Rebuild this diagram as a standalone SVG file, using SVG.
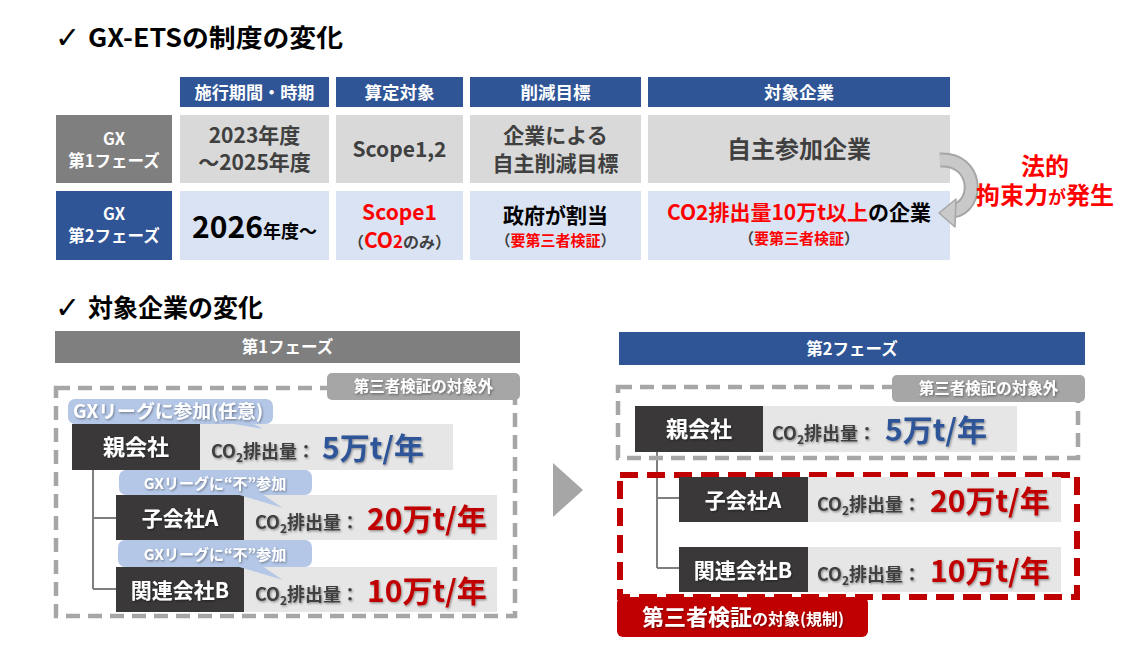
<svg xmlns="http://www.w3.org/2000/svg" width="1123" height="646" viewBox="0 0 1123 646">
<defs>
<filter id="sh" x="-10%" y="-30%" width="130%" height="160%"><feDropShadow dx="1" dy="1.2" stdDeviation="0.8" flood-color="#000" flood-opacity="0.4"/></filter>
</defs>
<style>
text { font-family: 'Noto Sans CJK JP', 'Noto Sans', sans-serif; font-weight: bold; }
.chk { font-family: 'DejaVu Sans', sans-serif; font-weight: normal; font-size: 30px; fill: #000; }
.ttl { font-size: 25px; fill: #000; }
.hdr { fill: #2F5597; }
.hdrt { fill: #fff; font-size: 17.5px; text-anchor: middle; }
.rh1 { fill: #7F7F7F; }
.rh2 { fill: #2F5597; }
.rht { fill: #fff; font-size: 16.5px; text-anchor: middle; }
.c1 { fill: #D9D9D9; }
.c2 { fill: #DAE3F3; }
.t1 { fill: #404040; font-size: 21px; text-anchor: middle; }
.t2 { fill: #000; font-size: 21px; text-anchor: middle; }
.red { fill: #FF0000; }
.gry { fill: #404040; }
.blk { fill: #000; }
.law { fill: #FF0000; font-size: 24px; text-anchor: middle; }
.ph1 { fill: #7F7F7F; }
.ph2 { fill: #2F5597; }
.pht { fill: #fff; font-size: 16.5px; text-anchor: middle; }
.dash { fill: none; stroke: #A6A6A6; stroke-width: 4.5; stroke-dasharray: 14 8; }
.rdash { fill: none; stroke: #C00000; stroke-width: 6; stroke-dasharray: 18 9; }
.lbl { fill: #A6A6A6; }
.lblt { fill: #fff; font-size: 15.5px; text-anchor: middle; }
.co { fill: #B4C7E7; }
.cot { fill: #fff; font-size: 15px; text-anchor: middle; }
.nb { fill: #3A3838; }
.bar { fill: #E7E6E6; }
.nt { fill: #fff; font-size: 21px; text-anchor: middle; }
.em { fill: #404040; font-size: 18px; }
.v1 { fill: #2F5597; font-size: 30px; }
.v2 { fill: #C00000; font-size: 30px; }
.tree { fill: none; stroke: #7F7F7F; stroke-width: 2; }
.sh { filter: url(#sh); }
</style>

<!-- Titles -->
<g id="title1">
<text class="chk" x="55" y="48">✓</text>
<text class="ttl" x="88" y="47" textLength="255" lengthAdjust="spacingAndGlyphs">GX-ETSの制度の変化</text>
</g>
<g id="title2">
<text class="chk" x="55" y="318">✓</text>
<text class="ttl" x="88" y="317" textLength="175" lengthAdjust="spacingAndGlyphs">対象企業の変化</text>
</g>

<!-- Table header -->
<g id="hdr-period"><rect class="hdr" x="180" y="77" width="149" height="30"/><text class="hdrt" x="254.5" y="98.5" textLength="120" lengthAdjust="spacingAndGlyphs">施行期間・時期</text></g>
<g id="hdr-scope"><rect class="hdr" x="336" y="77" width="127" height="30"/><text class="hdrt" x="399.5" y="98.5">算定対象</text></g>
<g id="hdr-target"><rect class="hdr" x="470" y="77" width="171" height="30"/><text class="hdrt" x="555.5" y="98.5">削減目標</text></g>
<g id="hdr-company"><rect class="hdr" x="648" y="77" width="302" height="30"/><text class="hdrt" x="799" y="98.5">対象企業</text></g>

<!-- Row 1 -->
<g id="row1-head"><rect class="rh1" x="56" y="115" width="116" height="68"/><text class="rht" x="114" y="145">GX</text><text class="rht" x="114" y="167">第1フェーズ</text></g>
<g id="row1-period"><rect class="c1" x="180" y="115" width="149" height="68"/><text class="t1" x="254.5" y="143">2023年度</text><text class="t1" x="254.5" y="170">～2025年度</text></g>
<g id="row1-scope"><rect class="c1" x="336" y="115" width="127" height="68"/><text class="t1" x="399.5" y="157">Scope1,2</text></g>
<g id="row1-target"><rect class="c1" x="470" y="115" width="171" height="68"/><text class="t1" x="555.5" y="142.5">企業による</text><text class="t1" x="555.5" y="170.5">自主削減目標</text></g>
<g id="row1-company"><rect class="c1" x="648" y="115" width="302" height="68"/><text class="t1" x="799" y="158" style="font-size:24px">自主参加企業</text></g>

<!-- Row 2 -->
<g id="row2-head"><rect class="rh2" x="56" y="191" width="116" height="69"/><text class="rht" x="114" y="220">GX</text><text class="rht" x="114" y="242">第2フェーズ</text></g>
<g id="row2-period"><rect class="c2" x="180" y="191" width="149" height="69"/><text class="t2" x="254.5" y="238"><tspan style="font-size:30px">2026</tspan><tspan style="font-size:18px">年度～</tspan></text></g>
<g id="row2-scope"><rect class="c2" x="336" y="191" width="127" height="69"/><text class="t2 red" x="399.5" y="220">Scope1</text><text class="t2" x="399.5" y="248"><tspan class="gry" style="font-size:16px">（</tspan><tspan class="red">CO</tspan><tspan class="red" style="font-size:17px">2</tspan><tspan class="gry" style="font-size:16px">のみ）</tspan></text></g>
<g id="row2-target"><rect class="c2" x="470" y="191" width="171" height="69"/><text class="t2" x="555.5" y="223">政府が割当</text><text class="t2" x="555.5" y="246" style="font-size:15px"><tspan class="gry">（</tspan><tspan class="red">要第三者検証</tspan><tspan class="gry">）</tspan></text></g>
<g id="row2-company"><rect class="c2" x="648" y="191" width="302" height="69"/><text class="t2" x="799" y="220"><tspan class="red">CO2排出量10万t以上</tspan><tspan class="blk">の企業</tspan></text><text class="t2" x="799" y="244" style="font-size:15px"><tspan class="gry">（</tspan><tspan class="red">要第三者検証</tspan><tspan class="gry">）</tspan></text></g>

<!-- Curved arrow and legal note -->
<g id="legal-arrow">
<path d="M940,160 C978,158 980,206 953,211" fill="none" stroke="#A6A6A6" stroke-width="15"/>
<path d="M940,160 C978,158 980,206 953,211" fill="none" stroke="#C9C9C9" stroke-width="11"/>
<polygon points="939,213 956,199 955,227" fill="#C9C9C9" stroke="#A6A6A6" stroke-width="1.5" stroke-linejoin="round"/>
</g>
<g id="legal-note">
<text class="law" x="1045" y="175">法的</text>
<text class="law" x="1045" y="204">拘束力<tspan style="font-size:18px">が</tspan>発生</text>
</g>

<!-- Phase bars -->
<g id="phase1-bar"><rect class="ph1" x="55" y="331" width="465" height="32"/><text class="pht" x="287.5" y="353">第1フェーズ</text></g>
<g id="phase2-bar"><rect class="ph2" x="619" y="332" width="466" height="33"/><text class="pht" x="852" y="355">第2フェーズ</text></g>

<!-- Connectors (tree lines) -->
<g id="connectors">
<path class="tree" d="M93,470 V589 M93,518 H116 M93,589 H116"/>
<path class="tree" d="M657,452 V568 M657,498 H679 M657,568 H679"/>
</g>

<!-- Phase 1 -->
<g id="p1-scope-box"><rect class="dash" x="56" y="388" width="459" height="228"/></g>
<g id="p1-exempt-label"><rect class="lbl" x="327" y="373" width="193" height="27" rx="5"/><text class="lblt sh" x="423.5" y="392">第三者検証の対象外</text></g>

<g id="p1-parent">
<rect class="bar" x="200" y="424" width="253" height="46"/>
<rect class="nb" x="72" y="424" width="128" height="46"/>
<text class="nt sh" x="136" y="455" style="font-size:22px">親会社</text>
<text class="em sh" x="211" y="458">CO<tspan style="font-size:12px" dy="4">2</tspan><tspan dy="-4">排出量：</tspan></text>
<text class="v1 sh" x="322" y="459">5万t/年</text>
</g>
<g id="p1-callout-join">
<rect class="co" x="68" y="399" width="205" height="25" rx="7"/>
<polygon class="co" points="228,423 252,423 263,429"/>
<text class="cot sh" x="168" y="418" style="font-size:18px" textLength="190" lengthAdjust="spacingAndGlyphs">GXリーグに参加(任意)</text>
</g>

<g id="p1-sub-a">
<rect class="bar" x="244" y="495" width="253" height="45"/>
<rect class="nb" x="116" y="495" width="128" height="45"/>
<text class="nt sh" x="180" y="526">子会社A</text>
<text class="em sh" x="255" y="529">CO<tspan style="font-size:12px" dy="4">2</tspan><tspan dy="-4">排出量：</tspan></text>
<text class="v2 sh" x="367" y="530">20万t/年</text>
</g>
<g id="p1-callout-a">
<rect class="co" x="119" y="470" width="193" height="25" rx="7"/>
<polygon class="co" points="236,494 262,494 283,508"/>
<text class="cot sh" x="215" y="489">GXリーグに“不”参加</text>
</g>

<g id="p1-affiliate-b">
<rect class="bar" x="244" y="567" width="253" height="45"/>
<rect class="nb" x="116" y="567" width="128" height="45"/>
<text class="nt sh" x="180" y="598">関連会社B</text>
<text class="em sh" x="255" y="601">CO<tspan style="font-size:12px" dy="4">2</tspan><tspan dy="-4">排出量：</tspan></text>
<text class="v2 sh" x="367" y="602">10万t/年</text>
</g>
<g id="p1-callout-b">
<rect class="co" x="118" y="540" width="194" height="27" rx="7"/>
<polygon class="co" points="236,566 262,566 283,580"/>
<text class="cot sh" x="215" y="560">GXリーグに“不”参加</text>
</g>

<!-- Transition arrow -->
<g id="phase-arrow"><polygon points="553,463 583,490 553,517" fill="#A6A6A6"/></g>

<!-- Phase 2 -->
<g id="p2-scope-box"><rect class="dash" x="618" y="387" width="460" height="71"/></g>
<g id="p2-exempt-label"><rect class="lbl" x="892" y="375" width="193" height="27" rx="5"/><text class="lblt sh" x="988.5" y="394">第三者検証の対象外</text></g>

<g id="p2-parent">
<rect class="bar" x="763" y="406" width="254" height="46"/>
<rect class="nb" x="635" y="406" width="128" height="46"/>
<text class="nt sh" x="699" y="437" style="font-size:22px">親会社</text>
<text class="em sh" x="772" y="440">CO<tspan style="font-size:12px" dy="4">2</tspan><tspan dy="-4">排出量：</tspan></text>
<text class="v1 sh" x="885" y="441">5万t/年</text>
</g>

<g id="p2-regulated-box"><rect class="rdash" x="620" y="475" width="457" height="122"/></g>

<g id="p2-sub-a">
<rect class="bar" x="808" y="477" width="253" height="45"/>
<rect class="nb" x="679" y="477" width="129" height="45"/>
<text class="nt sh" x="743" y="508">子会社A</text>
<text class="em sh" x="817" y="511">CO<tspan style="font-size:12px" dy="4">2</tspan><tspan dy="-4">排出量：</tspan></text>
<text class="v2 sh" x="930" y="512">20万t/年</text>
</g>
<g id="p2-affiliate-b">
<rect class="bar" x="808" y="547" width="253" height="45"/>
<rect class="nb" x="679" y="547" width="129" height="45"/>
<text class="nt sh" x="743" y="578">関連会社B</text>
<text class="em sh" x="817" y="581">CO<tspan style="font-size:12px" dy="4">2</tspan><tspan dy="-4">排出量：</tspan></text>
<text class="v2 sh" x="930" y="582">10万t/年</text>
</g>

<g id="p2-regulated-label">
<rect x="617" y="597" width="251" height="40" rx="6" fill="#C00000"/>
<text class="sh" x="642" y="625" fill="#fff" style="font-size:22px">第三者検証<tspan style="font-size:16px">の対象(規制)</tspan></text>
</g>
</svg>
